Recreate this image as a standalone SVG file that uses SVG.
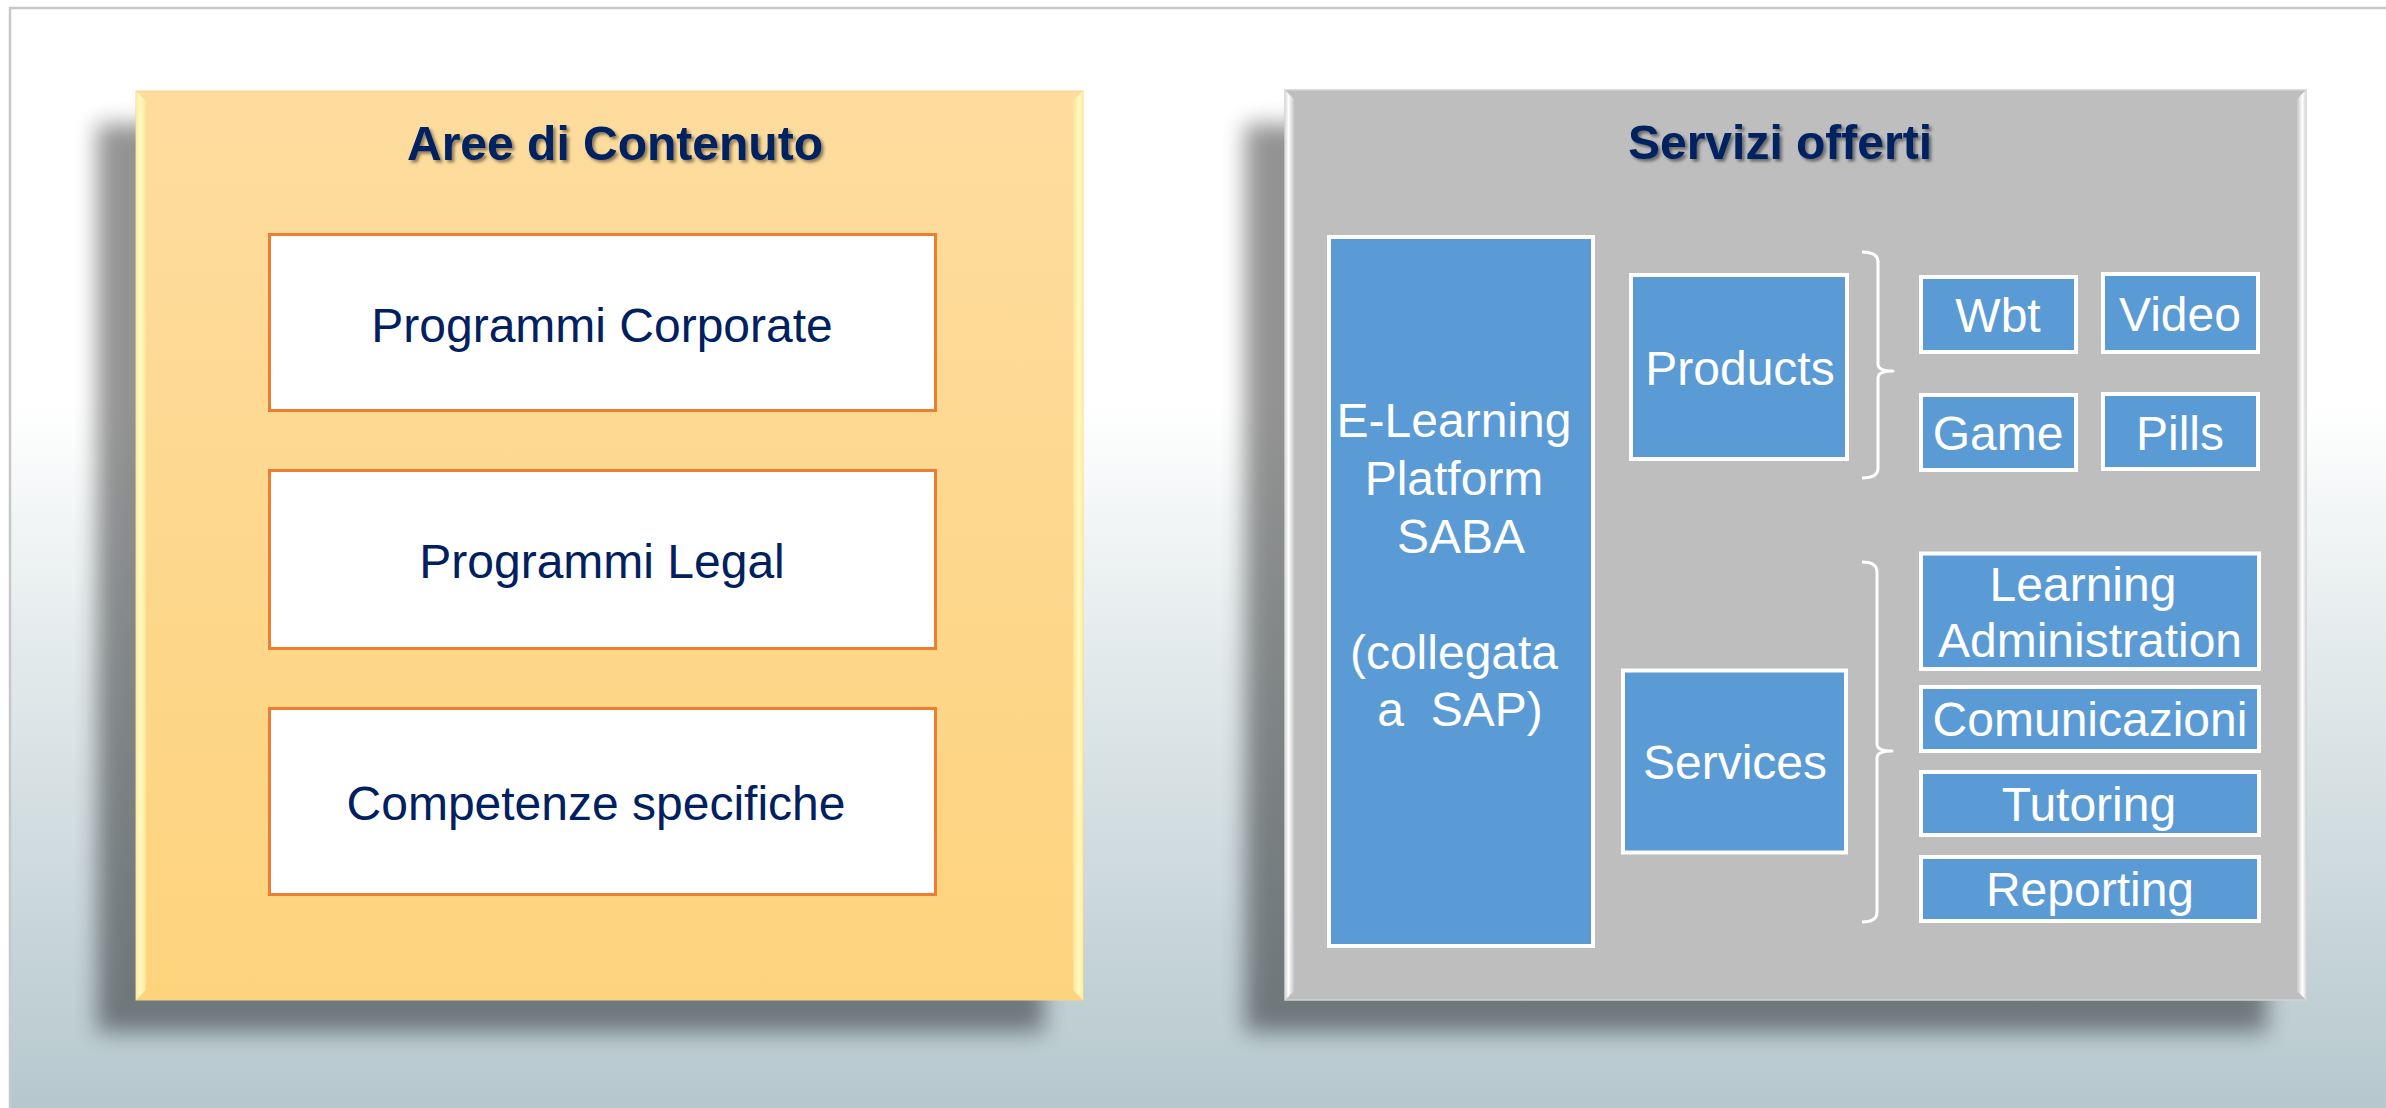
<svg xmlns="http://www.w3.org/2000/svg" width="2386" height="1108" viewBox="0 0 2386 1108">
<defs>
<linearGradient id="bg" x1="0" y1="0" x2="0" y2="1">
<stop offset="0" stop-color="#ffffff"/>
<stop offset="0.36" stop-color="#ffffff"/>
<stop offset="0.62" stop-color="#dfe7e9"/>
<stop offset="1" stop-color="#b6c8ce"/>
</linearGradient>
<linearGradient id="orangeFill" x1="0" y1="0" x2="0" y2="1">
<stop offset="0" stop-color="#fddc9e"/>
<stop offset="1" stop-color="#fed37d"/>
</linearGradient>
<linearGradient id="yBevelL" x1="0" y1="0" x2="1" y2="0">
<stop offset="0" stop-color="#ffe9a0"/>
<stop offset="0.4" stop-color="#fffbc0"/>
<stop offset="1" stop-color="#fee39a"/>
</linearGradient>
<linearGradient id="yBevelR" x1="0" y1="0" x2="1" y2="0">
<stop offset="0" stop-color="#fee39a"/>
<stop offset="0.6" stop-color="#fffbc0"/>
<stop offset="1" stop-color="#ffe9a0"/>
</linearGradient>
<linearGradient id="gBevelL" x1="0" y1="0" x2="1" y2="0">
<stop offset="0" stop-color="#d8d8d8"/>
<stop offset="0.4" stop-color="#ffffff"/>
<stop offset="1" stop-color="#c6c6c6"/>
</linearGradient>
<linearGradient id="gBevelR" x1="0" y1="0" x2="1" y2="0">
<stop offset="0" stop-color="#c6c6c6"/>
<stop offset="0.6" stop-color="#ffffff"/>
<stop offset="1" stop-color="#d8d8d8"/>
</linearGradient>
<filter id="shadow" x="-10%" y="-10%" width="120%" height="120%">
<feGaussianBlur stdDeviation="11"/>
</filter>
<filter id="titleShadow" x="-5%" y="-20%" width="110%" height="140%">
<feDropShadow dx="2.5" dy="2.5" stdDeviation="1.5" flood-color="#000000" flood-opacity="0.45"/>
</filter>
<style>
.title{font-family:"Liberation Sans",Arial,sans-serif;font-size:48px;font-weight:bold;fill:#002060;text-anchor:middle}
.dark{font-family:"Liberation Sans",Arial,sans-serif;font-size:48px;fill:#002060;text-anchor:middle}
.light{font-family:"Liberation Sans",Arial,sans-serif;font-size:48px;fill:#ffffff;text-anchor:middle}
.obox{fill:#ffffff;stroke:#ed7d31;stroke-width:3}
.bbox{fill:#5b9bd5;stroke:#ffffff;stroke-width:4}
.brace{fill:none;stroke:#ffffff;stroke-width:3;stroke-linejoin:round}
.shd{fill:#000000;opacity:0.42}
</style>
</defs>

<rect x="0" y="0" width="2386" height="1108" fill="#ffffff"/>
<rect x="10" y="8" width="2376" height="1100" fill="url(#bg)"/>
<path d="M10,1108 V8 H2386" fill="none" stroke="#c8c8c8" stroke-width="2.5"/>

<!-- Left panel -->
<g id="panel-aree">
<rect class="shd" x="97" y="124" width="947" height="908" filter="url(#shadow)"/>
<rect x="136" y="91" width="947" height="909" fill="url(#orangeFill)" stroke="#f6d58c" stroke-width="1"/>
<polygon points="136,91 146,101 146,990 136,1000" fill="url(#yBevelL)"/>
<polygon points="1083,91 1073,101 1073,990 1083,1000" fill="url(#yBevelR)"/>
<text class="title" x="615" y="160" filter="url(#titleShadow)">Aree di Contenuto</text>
</g>
<g id="box-corporate">
<rect class="obox" x="269.5" y="234.5" width="666" height="176"/>
<text class="dark" x="602" y="342">Programmi Corporate</text>
</g>
<g id="box-legal">
<rect class="obox" x="269.5" y="470.5" width="666" height="178"/>
<text class="dark" x="602" y="578">Programmi Legal</text>
</g>
<g id="box-competenze">
<rect class="obox" x="269.5" y="708.5" width="666" height="186"/>
<text class="dark" x="596" y="820">Competenze specifiche</text>
</g>

<!-- Right panel -->
<g id="panel-servizi">
<rect class="shd" x="1245" y="124" width="1022" height="908" filter="url(#shadow)"/>
<rect x="1285" y="90" width="1021" height="910" fill="#bebebe" stroke="#d2d2d2" stroke-width="1.5"/>
<polygon points="1285,90 1294,99 1294,991 1285,1000" fill="url(#gBevelL)"/>
<polygon points="2306,90 2297,99 2297,991 2306,1000" fill="url(#gBevelR)"/>
<text class="title" x="1780" y="159" filter="url(#titleShadow)">Servizi offerti</text>
</g>
<g id="box-elearning">
<rect class="bbox" x="1329" y="237" width="264" height="709"/>
<text class="light" x="1454" y="437">E-Learning</text>
<text class="light" x="1454" y="495">Platform</text>
<text class="light" x="1461" y="553">SABA</text>
<text class="light" x="1454" y="669">(collegata</text>
<text class="light" x="1460" y="726" xml:space="preserve">a  SAP)</text>
</g>
<g id="box-products">
<rect class="bbox" x="1631" y="275" width="216" height="184"/>
<text class="light" x="1740" y="385">Products</text>
</g>
<g id="box-services">
<rect class="bbox" x="1623" y="670.5" width="223" height="182"/>
<text class="light" x="1735" y="779">Services</text>
</g>
<g id="box-wbt">
<rect class="bbox" x="1921" y="277" width="155" height="75"/>
<text class="light" x="1998" y="332">Wbt</text>
</g>
<g id="box-video">
<rect class="bbox" x="2103" y="274" width="155" height="78"/>
<text class="light" x="2180" y="331">Video</text>
</g>
<g id="box-game">
<rect class="bbox" x="1921" y="395" width="155" height="75"/>
<text class="light" x="1998" y="450">Game</text>
</g>
<g id="box-pills">
<rect class="bbox" x="2103" y="394" width="155" height="75"/>
<text class="light" x="2180" y="450">Pills</text>
</g>
<g id="box-learning-admin">
<rect class="bbox" x="1921" y="553.5" width="338" height="115.5"/>
<text class="light" x="2083" y="601">Learning</text>
<text class="light" x="2090" y="657">Administration</text>
</g>
<g id="box-comunicazioni">
<rect class="bbox" x="1921" y="687" width="338" height="64"/>
<text class="light" x="2090" y="736">Comunicazioni</text>
</g>
<g id="box-tutoring">
<rect class="bbox" x="1921" y="772" width="338" height="63"/>
<text class="light" x="2089" y="821">Tutoring</text>
</g>
<g id="box-reporting">
<rect class="bbox" x="1921" y="857" width="338" height="64"/>
<text class="light" x="2090" y="906">Reporting</text>
</g>

<g id="connectors">
<path class="brace" d="M1862,252 Q1878,252 1878,262 V364 Q1878,371 1893,371 Q1878,371 1878,378 V468 Q1878,478 1862,478"/>
<path class="brace" d="M1862,562 Q1877,562 1877,572 V744 Q1877,751 1892,751 Q1877,751 1877,758 V912 Q1877,922 1862,922"/>
</g>
</svg>
